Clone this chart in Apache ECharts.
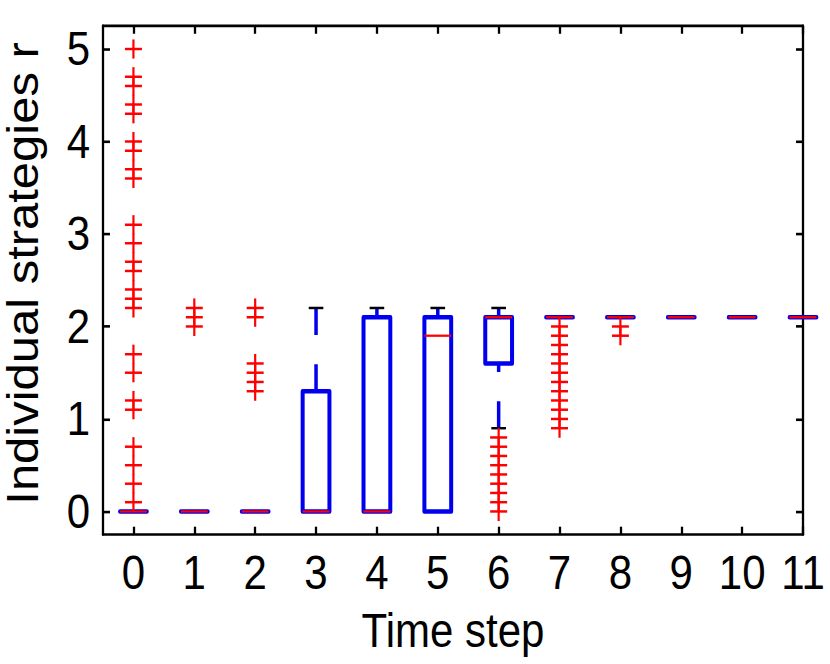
<!DOCTYPE html>
<html>
<head>
<meta charset="utf-8">
<script src="https://cdn.jsdelivr.net/npm/echarts@6/dist/echarts.min.js"></script>
<style>
  html, body { margin: 0; padding: 0; background: #fff; overflow: hidden; }
  #wrap { width: 830px; height: 660px; transform-origin: 0 0; transform: scaleY(1.12542); }
  #chart { width: 830px; height: 660px; }
</style>
</head>
<body>
<div id="wrap"><div id="chart"></div></div>
<script>
// ---- data ----
const timeSteps   = [0, 1, 2, 3, 4, 5, 6, 7, 8, 9, 10, 11];
const whiskerLow  = [0, 0, 0, 0, 0, 0, 0.9, 2.1, 2.1, 2.1, 2.1, 2.1];
const quartile1   = [0, 0, 0, 0, 0, 0, 1.6, 2.1, 2.1, 2.1, 2.1, 2.1];
const medians     = [0, 0, 0, 0, 0, 1.9, 2.1, 2.1, 2.1, 2.1, 2.1, 2.1];
const quartile3   = [0, 0, 0, 1.3, 2.1, 2.1, 2.1, 2.1, 2.1, 2.1, 2.1, 2.1];
const whiskerHigh = [0, 0, 0, 2.2, 2.2, 2.2, 2.2, 2.1, 2.1, 2.1, 2.1, 2.1];
const outliers = [
  [0.1, 0.3, 0.5, 0.7, 1.1, 1.2, 1.5, 1.7, 2.2, 2.3, 2.4, 2.6, 2.7, 2.9, 3.1, 3.6, 3.7, 3.9, 4.0, 4.3, 4.4, 4.6, 4.7, 5.0],
  [2.0, 2.1, 2.2],
  [1.3, 1.4, 1.5, 1.6, 2.1, 2.2],
  [],
  [],
  [],
  [0.0, 0.1, 0.2, 0.3, 0.4, 0.5, 0.6, 0.7, 0.8],
  [0.9, 1.0, 1.1, 1.2, 1.3, 1.4, 1.5, 1.6, 1.7, 1.8, 1.9, 2.0],
  [1.9, 2.0],
  [],
  [],
  []
];
const xTickValues = [0, 1, 2, 3, 4, 5, 6, 7, 8, 9, 10, 11];
const yTickValues = [0, 1, 2, 3, 4, 5];
const xTitle = 'Time step';
const yTitle = 'Individual strategies r';

// ---- build series data ----
const boxData = timeSteps.map((t, i) => [t, whiskerLow[i], quartile1[i], medians[i], quartile3[i], whiskerHigh[i]]);
const outlierData = [];
timeSteps.forEach((t, i) => outliers[i].forEach(v => outlierData.push([t, v])));

const BLUE = '#0000ee';
const RED = '#ff0000';
const FONT = '"Liberation Sans", Arial, Helvetica, sans-serif';
const BOX_HALF = 0.22;
const CAP_HALF = 0.12;

function renderBox(params, api) {
  const x = api.value(0);
  const lo = api.value(1), q1 = api.value(2), med = api.value(3), q3 = api.value(4), hi = api.value(5);
  const p = (a, b) => api.coord([a, b]);
  const children = [];
  function seg(a, b, style) {
    children.push({ type: 'line', shape: { x1: a[0], y1: a[1], x2: b[0], y2: b[1] }, style: style });
  }
  const wStyle = { stroke: BLUE, lineWidth: 3.5, lineDash: [24, 26], fill: null };
  if (hi > q3) seg(p(x, hi), p(x, q3), wStyle);
  if (lo < q1) seg(p(x, lo), p(x, q1), wStyle);
  const cStyle = { stroke: '#000', lineWidth: 2.2, fill: null };
  seg(p(x - CAP_HALF, hi), p(x + CAP_HALF, hi), cStyle);
  seg(p(x - CAP_HALF, lo), p(x + CAP_HALF, lo), cStyle);
  children.push({
    type: 'polygon',
    shape: { points: [p(x - BOX_HALF, q1), p(x + BOX_HALF, q1), p(x + BOX_HALF, q3), p(x - BOX_HALF, q3)] },
    style: { stroke: BLUE, lineWidth: 4, fill: null, lineJoin: 'round' }
  });
  seg(p(x - BOX_HALF, med), p(x + BOX_HALF, med), { stroke: RED, lineWidth: 2, fill: null });
  return { type: 'group', children: children };
}

function renderOutlier(params, api) {
  const c = api.coord([api.value(0), api.value(1)]);
  const h = 8.5;
  const st = { stroke: RED, lineWidth: 2.2, fill: null };
  return {
    type: 'group',
    children: [
      { type: 'line', shape: { x1: c[0] - h, y1: c[1], x2: c[0] + h, y2: c[1] }, style: st },
      { type: 'line', shape: { x1: c[0], y1: c[1] - h, x2: c[0], y2: c[1] + h }, style: st }
    ]
  };
}

const axisLineStyle = { color: '#000', width: 2.3 };
const chart = echarts.init(document.getElementById('chart'), null, { renderer: 'svg' });
chart.setOption({
  animation: false,
  backgroundColor: '#fff',
  grid: { left: 103, right: 27, top: 23, bottom: 185, containLabel: false, outerBoundsMode: 'none' },
  xAxis: [
    {
      type: 'value', min: -0.5, max: 11, position: 'bottom',
      axisLine: { show: true, onZero: false, lineStyle: axisLineStyle },
      axisTick: { show: true, inside: true, length: 7, customValues: xTickValues, lineStyle: axisLineStyle },
      axisLabel: { show: true, customValues: xTickValues, fontSize: 42, color: '#000', margin: 13, fontFamily: FONT, hideOverlap: false },
      splitLine: { show: false },
      name: xTitle, nameLocation: 'middle', nameGap: 64, nameMoveOverlap: false,
      nameTextStyle: { fontSize: 42, color: '#000', fontFamily: FONT }
    },
    {
      type: 'value', min: -0.5, max: 11, position: 'top',
      axisLine: { show: true, onZero: false, lineStyle: axisLineStyle },
      axisTick: { show: true, inside: true, length: 7, customValues: xTickValues, lineStyle: axisLineStyle },
      axisLabel: { show: false },
      splitLine: { show: false }
    }
  ],
  yAxis: [
    {
      type: 'value', min: -0.25, max: 5.25, position: 'left',
      axisLine: { show: true, onZero: false, lineStyle: axisLineStyle },
      axisTick: { show: true, inside: true, length: 7, customValues: yTickValues, lineStyle: axisLineStyle },
      axisLabel: { show: true, customValues: yTickValues, fontSize: 42, color: '#000', margin: 13, fontFamily: FONT },
      splitLine: { show: false },
      name: yTitle, nameLocation: 'middle', nameGap: 58, nameMoveOverlap: false,
      nameTextStyle: { fontSize: 43.5, color: '#000', fontFamily: FONT, padding: [0, 0, 0, 12] }
    },
    {
      type: 'value', min: -0.25, max: 5.25, position: 'right',
      axisLine: { show: true, onZero: false, lineStyle: axisLineStyle },
      axisTick: { show: true, inside: true, length: 7, customValues: yTickValues, lineStyle: axisLineStyle },
      axisLabel: { show: false },
      splitLine: { show: false }
    }
  ],
  series: [
    {
      type: 'custom', name: 'boxes', xAxisIndex: 0, yAxisIndex: 0,
      renderItem: renderBox, data: boxData,
      encode: { x: 0, y: [1, 2, 3, 4, 5] }, z: 2, clip: false
    },
    {
      type: 'custom', name: 'outliers', xAxisIndex: 0, yAxisIndex: 0,
      renderItem: renderOutlier, data: outlierData,
      encode: { x: 0, y: 1 }, z: 3, clip: false
    }
  ]
});
</script>
</body>
</html>
